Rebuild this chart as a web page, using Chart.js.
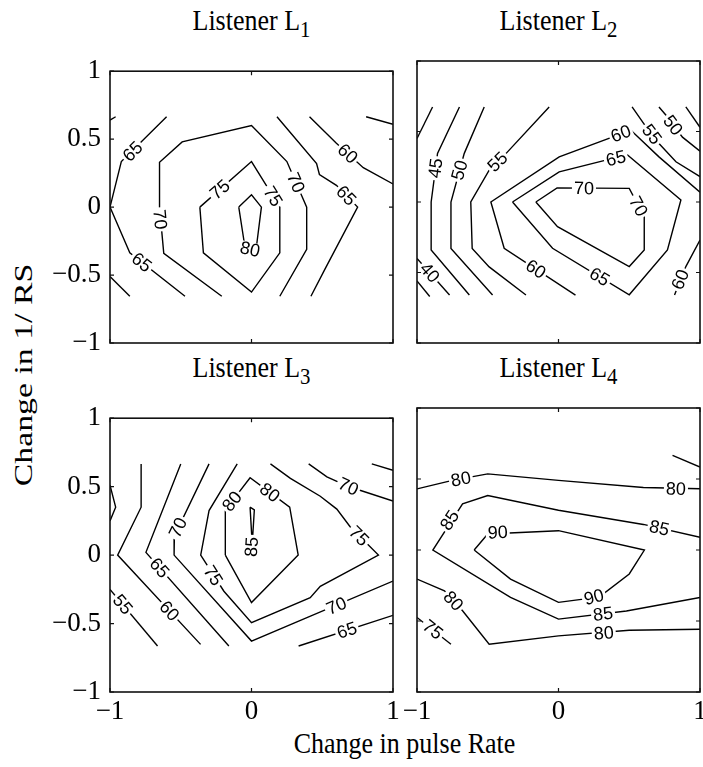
<!DOCTYPE html>
<html>
<head>
<meta charset="utf-8">
<script src="https://cdn.jsdelivr.net/npm/chart.js@4"></script>
<style>
  body { margin: 0; background: #fff; width: 703px; height: 767px; overflow: hidden; position: relative; font-family: "Liberation Serif", serif; color: #000; }
  canvas { position: absolute; }
  .ttl { position: absolute; font-size: 26px; line-height: 26px; text-align: center; width: 283px; white-space: nowrap; transform: scaleY(1.15); }
  .ttl sub { font-size: 0.8em; vertical-align: -0.3em; line-height: 0; }
</style>
</head>
<body>
<div class="ttl" style="left:110px;top:8px">Listener L<sub>1</sub></div>
<div class="ttl" style="left:417px;top:8px">Listener L<sub>2</sub></div>
<div class="ttl" style="left:110px;top:355px">Listener L<sub>3</sub></div>
<div class="ttl" style="left:417px;top:355px">Listener L<sub>4</sub></div>
<div class="ttl" style="left:263px;top:731px;width:283px">Change in pulse Rate</div>
<div class="ttl" style="left:-126px;top:362px;width:300px;transform:rotate(-90deg) scaleX(1.3)">Change in 1/ RS</div>

<canvas id="c1" width="378" height="347" style="left:30px;top:46px"></canvas>
<canvas id="c2" width="378" height="347" style="left:337px;top:46px"></canvas>
<canvas id="c3" width="378" height="349" style="left:30px;top:393px"></canvas>
<canvas id="c4" width="378" height="349" style="left:337px;top:393px"></canvas>

<script>
// tick values
const xTicks = [-1, 0, 1];
const yTicks = [-1, -0.5, 0, 0.5, 1];

// Listener L1 : contour levels, polylines (x = pulse rate, y = 1/RS), labels [level, x, y]
const L1_levels = [65, 70, 75, 80, 65, 60, 55, 60, 60];
const L1_lines = [
  [[-0.60, 0.665], [-0.92, 0.335], [-1.0, 0.0], [-0.86, -0.337], [-0.47, -0.656]],
  [[-0.21, -0.656], [-0.62, -0.34], [-0.65, 0.0], [-0.65, 0.33], [-0.49, 0.48], [0.0, 0.60], [0.25, 0.335], [0.39, 0.0], [0.39, -0.31], [0.20, -0.656]],
  [[-0.365, 0.0], [0.0, 0.335], [0.20, 0.0], [0.20, -0.337], [0.0, -0.625], [-0.34, -0.337], [-0.365, 0.0]],
  [[-0.09, 0.0], [0.0, 0.09], [0.07, 0.0], [0.035, -0.29], [-0.05, -0.27], [-0.09, 0.0]],
  [[0.18, 0.665], [0.46, 0.32], [0.48, 0.24], [0.60, 0.16], [0.75, 0.0], [0.52, -0.455], [0.42, -0.656]],
  [[0.41, 0.665], [0.60, 0.47], [0.79, 0.29], [1.0, 0.17]],
  [[0.81, 0.665], [1.0, 0.61]],
  [[-1.0, 0.64], [-0.96, 0.665]],
  [[-1.0, -0.51], [-0.86, -0.656]]
];
const L1_labels = [[65, -0.84, 0.41], [65, -0.776, -0.406], [70, -0.645, -0.09], [70, 0.315, 0.18],
  [75, -0.224, 0.13], [75, 0.153, 0.08], [80, -0.01, -0.31], [65, 0.67, 0.085], [60, 0.68, 0.394]];

// Listener L2
const L2_levels = [40, 45, 50, 55, 60, 65, 70, 55, 50, 45, 60, 40, 35];
const L2_lines = [
  [[-1.0, 0.45], [-0.89, 0.674]],
  [[-0.70, 0.674], [-0.855, 0.345], [-0.90, 0.0], [-0.90, -0.34], [-0.63, -0.66]],
  [[-0.525, 0.674], [-0.666, 0.345], [-0.76, 0.0], [-0.76, -0.33], [-0.466, -0.66]],
  [[-0.066, 0.674], [-0.37, 0.345], [-0.49, 0.226], [-0.62, 0.0], [-0.61, -0.33], [-0.49, -0.46], [-0.23, -0.66]],
  [[0.12, -0.66], [-0.384, -0.328], [-0.478, 0.0], [0.005, 0.32], [0.38, 0.46], [0.51, 0.51], [0.71, 0.32], [1.0, 0.07]],
  [[-0.325, 0.0], [0.005, 0.214], [0.335, 0.297], [0.488, 0.333], [0.865, 0.014], [0.77, -0.34], [0.50, -0.658], [-0.042, -0.328], [-0.325, 0.0]],
  [[-0.16, 0.0], [-0.01, 0.10], [0.50, 0.097], [0.606, -0.104], [0.606, -0.34], [0.50, -0.458], [-0.007, -0.175], [-0.16, 0.0]],
  [[0.52, 0.674], [0.61, 0.545], [0.71, 0.415], [0.83, 0.285], [1.0, 0.18]],
  [[0.71, 0.674], [0.76, 0.615], [0.876, 0.46], [1.0, 0.36]],
  [[0.90, 0.674], [1.0, 0.53]],
  [[1.0, -0.27], [0.90, -0.458], [0.82, -0.66]],
  [[-1.0, -0.40], [-0.77, -0.66]],
  [[-1.0, -0.56], [-0.91, -0.67]]
];
const L2_labels = [[45, -0.87, 0.24], [50, -0.70, 0.226], [55, -0.431, 0.285], [60, -0.16, -0.475], [60, 0.44, 0.486],
  [65, 0.405, 0.31], [65, 0.29, -0.53], [70, 0.18, 0.098], [70, 0.565, -0.03], [55, 0.66, 0.48],
  [50, 0.81, 0.545], [60, 0.86, -0.55], [40, -0.91, -0.50]];

// Listener L3
const L3_levels = [55, 55, 60, 65, 65, 65, 70, 70, 75, 80, 85];
const L3_lines = [
  [[-1.0, 0.51], [-0.96, 0.35], [-1.0, 0.25]],
  [[-1.0, -0.25], [-0.664, -0.664]],
  [[-0.78, 0.666], [-0.78, 0.35], [-0.946, 0.0], [-0.36, -0.652]],
  [[-0.50, 0.666], [-0.746, 0.02], [-0.16, -0.664]],
  [[0.333, -0.664], [1.0, -0.44]],
  [[0.85, 0.666], [1.0, 0.62]],
  [[-0.30, 0.666], [-0.545, 0.14], [-0.547, 0.0], [0.0, -0.628], [1.0, -0.19]],
  [[0.404, 0.666], [0.533, 0.572], [0.685, 0.501], [1.0, 0.395]],
  [[-0.101, 0.666], [-0.30, 0.325], [-0.359, 0.0], [-0.195, -0.264], [0.0, -0.494], [0.415, -0.311], [0.486, -0.228], [0.897, 0.0],
   [0.697, 0.207], [0.603, 0.336], [0.486, 0.43], [0.275, 0.56], [0.134, 0.666]],
  [[-0.185, 0.0], [-0.185, 0.33], [-0.01, 0.565], [0.27, 0.35], [0.33, 0.0], [0.0, -0.346], [-0.185, 0.0]],
  [[-0.01, 0.35], [0.02, 0.33], [0.005, 0.08], [-0.01, 0.35]]
];
const L3_labels = [[55, -0.91, -0.36], [60, -0.58, -0.407], [65, -0.65, -0.092], [65, 0.674, -0.549],
  [70, -0.52, 0.20], [70, 0.60, -0.37], [70, 0.685, 0.501], [75, -0.27, -0.15], [75, 0.76, 0.14],
  [80, -0.138, 0.393], [80, 0.13, 0.457], [85, 0.0, 0.06]];

// Listener L4
const L4_levels = [80, 75, 85, 90, 80, 75];
const L4_lines = [
  [[-1.0, 0.43], [-0.75, 0.49], [-0.50, 0.536], [0.0, 0.49], [0.60, 0.44], [1.0, 0.431]],
  [[0.806, 0.666], [1.0, 0.584]],
  [[1.0, 0.09], [0.60, 0.18], [0.0, 0.28], [-0.50, 0.384], [-0.678, 0.325], [-0.888, 0.0], [-0.339, -0.334], [0.0, -0.487], [0.48, -0.43], [1.0, -0.334]],
  [[-0.596, 0.0], [-0.50, 0.113], [0.0, 0.136], [0.607, 0.0], [0.50, -0.169], [0.315, -0.31], [0.175, -0.346], [0.0, -0.369], [-0.339, -0.205], [-0.596, 0.0]],
  [[-1.0, -0.205], [-0.806, -0.287], [-0.678, -0.428], [-0.49, -0.664], [0.0, -0.605], [0.50, -0.565], [1.0, -0.558]],
  [[-1.0, -0.475], [-0.76, -0.664]]
];
const L4_labels = [[80, -0.69, 0.50], [80, 0.83, 0.431], [85, -0.77, 0.21], [85, 0.713, 0.155], [85, 0.315, -0.45],
  [90, -0.43, 0.125], [90, 0.25, -0.33], [80, -0.742, -0.358], [80, 0.32, -0.585], [75, -0.888, -0.56]];

Chart.defaults.font.family = '"Liberation Serif", serif';
Chart.defaults.font.size = 27;
Chart.defaults.color = '#000';

function segDist(px, py, ax, ay, bx, by) {
  const dx = bx - ax, dy = by - ay;
  const len2 = dx * dx + dy * dy || 1;
  let t = ((px - ax) * dx + (py - ay) * dy) / len2;
  t = Math.max(0, Math.min(1, t));
  const qx = ax + t * dx, qy = ay + t * dy;
  return Math.hypot(px - qx, py - qy);
}

// inline contour labels + box frame with inward ticks
const contourPlugin = {
  id: 'contour',
  afterDatasetsDraw(chart, args, opts) {
    const { ctx, chartArea: a } = chart;
    const xs = chart.scales.x, ys = chart.scales.y;
    ctx.save();
    ctx.beginPath();
    ctx.rect(a.left, a.top, a.right - a.left, a.bottom - a.top);
    ctx.clip();
    ctx.font = '18px "Liberation Sans", Arial, sans-serif';
    ctx.textAlign = 'center';
    ctx.textBaseline = 'middle';
    opts.labels.forEach(([lev, lx, ly]) => {
      const px = xs.getPixelForValue(lx), py = ys.getPixelForValue(ly);
      let best = Infinity, ang = 0;
      opts.lines.forEach((pts, i) => {
        if (opts.levels[i] !== lev) return;
        for (let k = 0; k < pts.length - 1; k++) {
          const ax = xs.getPixelForValue(pts[k][0]), ay = ys.getPixelForValue(pts[k][1]);
          const bx = xs.getPixelForValue(pts[k + 1][0]), by = ys.getPixelForValue(pts[k + 1][1]);
          const d = segDist(px, py, ax, ay, bx, by);
          if (d < best) { best = d; ang = Math.atan2(by - ay, bx - ax); }
        }
      });
      if (ang > Math.PI / 2) ang -= Math.PI;
      else if (ang <= -Math.PI / 2) ang += Math.PI;
      const txt = String(lev);
      const w = ctx.measureText(txt).width;
      ctx.save();
      ctx.translate(px, py);
      ctx.rotate(ang);
      ctx.fillStyle = '#fff';
      ctx.fillRect(-w / 2 - 2, -7, w + 4, 14);
      ctx.fillStyle = '#000';
      ctx.fillText(txt, 0, 1);
      ctx.restore();
    });
    ctx.restore();

    ctx.save();
    ctx.strokeStyle = '#111';
    ctx.lineWidth = 1.6;
    ctx.strokeRect(a.left, a.top, a.right - a.left, a.bottom - a.top);
    ctx.lineWidth = 1.2;
    ctx.beginPath();
    xTicks.forEach(v => {
      const x = xs.getPixelForValue(v);
      ctx.moveTo(x, a.bottom); ctx.lineTo(x, a.bottom - 4);
      ctx.moveTo(x, a.top); ctx.lineTo(x, a.top + 4);
    });
    yTicks.forEach(v => {
      const y = ys.getPixelForValue(v);
      ctx.moveTo(a.left, y); ctx.lineTo(a.left + 4, y);
      ctx.moveTo(a.right, y); ctx.lineTo(a.right - 4, y);
    });
    ctx.stroke();
    ctx.restore();
  }
};

const fmt = v => (v < 0 ? '\u2212' : '') + Math.abs(v);

function makePanel(id, levels, lines, labels, showX, showY) {
  const ctx = document.getElementById(id).getContext('2d');
  return new Chart(ctx, {
    type: 'scatter',
    data: {
      datasets: lines.map((pts, i) => ({
        label: String(levels[i]),
        data: pts.map(p => ({ x: p[0], y: p[1] })),
        showLine: true,
        borderColor: '#000',
        borderWidth: 1.4,
        pointRadius: 0,
        fill: false,
        tension: 0
      }))
    },
    options: {
      responsive: false,
      animation: false,
      events: [],
      layout: { padding: { top: 15, right: 15, left: 0, bottom: 0 } },
      plugins: {
        legend: { display: false },
        tooltip: { enabled: false },
        contour: { levels: levels, lines: lines, labels: labels }
      },
      scales: {
        x: {
          type: 'linear', min: -1, max: 1,
          afterBuildTicks: s => { s.ticks = xTicks.map(v => ({ value: v })); },
          afterFit: s => { s.height = 50; },
          grid: { display: false, drawTicks: false },
          border: { display: false },
          ticks: { display: showX, padding: 4, autoSkip: false, maxRotation: 0, callback: fmt }
        },
        y: {
          type: 'linear', min: -1, max: 1,
          afterBuildTicks: s => { s.ticks = yTicks.map(v => ({ value: v })); },
          afterFit: s => { s.width = 80; },
          grid: { display: false, drawTicks: false },
          border: { display: false },
          ticks: { display: showY, padding: 9, autoSkip: false, callback: fmt }
        }
      }
    },
    plugins: [contourPlugin]
  });
}

makePanel('c1', L1_levels, L1_lines, L1_labels, false, true);
makePanel('c2', L2_levels, L2_lines, L2_labels, false, false);
makePanel('c3', L3_levels, L3_lines, L3_labels, true, true);
makePanel('c4', L4_levels, L4_lines, L4_labels, true, false);
</script>
</body>
</html>
